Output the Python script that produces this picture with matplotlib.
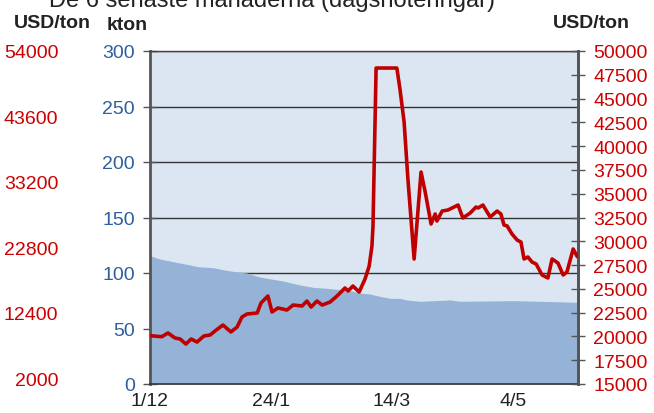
import matplotlib
matplotlib.use("Agg")
import matplotlib.pyplot as plt

plt.rcParams['font.family'] = ['Liberation Sans', 'DejaVu Sans']

# ----------------------------------------------------------------------
# Data (trading-day index from 1/12)
# ----------------------------------------------------------------------
PRICE_DAY = [0, 3.4, 5.2, 7.2, 8.7, 10.4, 11.9, 13.6, 15.6, 17.4, 18.8, 21.1,
             23.4, 25.2, 26.6, 28.1, 31.0, 32.1, 34.1, 35.3, 37.0, 39.6, 41.4,
             44.0, 45.4, 46.6, 48.3, 49.8, 52.1, 54.1, 56.4, 57.3, 58.7, 60.5,
             62.2, 63.4, 64.2, 64.5, 65.4, 71.4, 72.3, 73.5, 74.6, 76.4, 78.4,
             79.6, 81.3, 82.5, 83.0, 84.5, 86.2, 89.1, 90.5, 92.6, 94.3, 94.9,
             96.3, 98.4, 100.4, 101.5, 102.4, 103.3, 104.7, 106.2, 107.3, 108.2,
             109.3, 110.5, 111.7, 113.4, 115.1, 116.3, 118.0, 119.5, 120.6,
             122.4, 123.5]
PRICE_USD = [20080, 19970, 20360, 19840, 19730, 19200, 19730, 19410, 20050,
             20150, 20570, 21200, 20470, 20990, 22040, 22360, 22460, 23510,
             24250, 22570, 22990, 22780, 23300, 23200, 23720, 23090, 23720,
             23300, 23620, 24250, 25090, 24780, 25300, 24670, 26040, 27400,
             29500, 31600, 48210, 48210, 46000, 42540, 36550, 28140, 37280,
             35180, 31820, 32870, 32130, 33180, 33290, 33810, 32450, 32970,
             33600, 33500, 33810, 32550, 33180, 32870, 31710, 31610, 30770,
             30130, 29920, 28140, 28350, 27820, 27610, 26460, 26140, 28140,
             27720, 26460, 26770, 29190, 28450]

STOCK_DAY = [0, 2.9, 6.7, 11.6, 13.9, 18.2, 21.1, 24.0, 28.1, 31.0, 33.8, 38.5,
             43.4, 47.2, 51.2, 55.0, 57.9, 60.7, 63.6, 66.5, 69.4, 72.3, 74.3,
             78.1, 86.8, 89.7, 105.0, 116.6, 123.8]
STOCK_KTON = [115.6, 112.6, 110.2, 107.2, 105.7, 104.8, 103.0, 101.5, 100.0,
              97.0, 95.2, 92.8, 89.2, 87.1, 86.2, 85.0, 84.1, 82.0, 81.1, 79.0,
              77.2, 77.2, 75.7, 74.5, 75.7, 74.5, 75.1, 74.2, 73.6]

DATE_TICKS = [0, 35, 70, 105]
DATE_LABELS = ["1/12", "24/1", "14/3", "4/5"]

KTON_TICKS = [0, 50, 100, 150, 200, 250, 300]
PRICE_TICKS = list(range(15000, 50001, 2500))
OUTER_TICKS = [2000, 12400, 22800, 33200, 43600, 54000]

TITLE = "De 6 senaste månaderna (dagsnoteringar)"

# ----------------------------------------------------------------------
# Styles
# ----------------------------------------------------------------------
BG = "#DCE6F2"
AREA = "#95B3D7"
RED = "#C00000"
RED_TXT = "#CC0000"
BLUE_TXT = "#2E5E9E"
SPINE = "#555555"
FS = 14

fig = plt.figure(figsize=(6.54, 4.14), dpi=100)
ax = fig.add_axes([150 / 654, 29 / 414, 428 / 654, 333 / 414])
ax.set_facecolor(BG)

# stocks (kton) area on left axis
ax.fill_between(STOCK_DAY, 0, STOCK_KTON, color=AREA, lw=0, zorder=2)
ax.set_xlim(0, 123.8)
ax.set_ylim(0, 300)
ax.set_yticks(KTON_TICKS)
ax.yaxis.grid(True, color="#333333", lw=1.0, zorder=1)
ax.set_axisbelow(True)
ax.tick_params(axis='y', direction='inout', length=10, width=1, color=SPINE,
               labelcolor=BLUE_TXT, labelsize=FS, pad=6)
ax.set_xticks(DATE_TICKS)
ax.set_xticklabels(DATE_LABELS)
ax.tick_params(axis='x', direction='in', length=7, width=1, color="#333333",
               labelcolor="#222222", labelsize=FS, pad=6)
for s in ['left', 'right']:
    ax.spines[s].set_color(SPINE)
    ax.spines[s].set_linewidth(2)
ax.spines['top'].set_color("#444444")
ax.spines['top'].set_linewidth(1)
ax.spines['bottom'].set_color("#333333")
ax.spines['bottom'].set_linewidth(1.2)

# price line on right axis
ax2 = ax.twinx()
ax2.plot(PRICE_DAY, PRICE_USD, color=RED, lw=2.6, solid_joinstyle='round', zorder=3)
ax2.set_ylim(15000, 50000)
ax2.set_yticks(PRICE_TICKS)
ax2.tick_params(axis='y', direction='inout', length=10, width=1, color=SPINE,
                labelcolor=RED_TXT, labelsize=FS, pad=6)
for s in ['left', 'top', 'bottom']:
    ax2.spines[s].set_visible(False)
ax2.spines['right'].set_color(SPINE)
ax2.spines['right'].set_linewidth(2)

# outer left price scale (labels only, shifted slightly upward)
ax3 = ax.twinx()
shift = 6 * 52000 / 333
ax3.set_ylim(2000 - shift, 54000 - shift)
ax3.yaxis.tick_left()
ax3.set_yticks(OUTER_TICKS)
ax3.tick_params(axis='y', length=0, labelcolor=RED_TXT, labelsize=FS, pad=66)
for s in ax3.spines.values():
    s.set_visible(False)

# headers
fig.text(272 / 654, 1 - 7.5 / 414, TITLE, ha='center', va='baseline',
         fontsize=17, color="#222222")
fig.text(52 / 654, 1 - 24 / 414, "USD/ton", ha='center', va='center',
         fontsize=FS, fontweight='bold', color="#222222")
fig.text(127 / 654, 1 - 26 / 414, "kton", ha='center', va='center',
         fontsize=FS, fontweight='bold', color="#222222")
fig.text(591 / 654, 1 - 23 / 414, "USD/ton", ha='center', va='center',
         fontsize=FS, fontweight='bold', color="#222222")

fig.savefig("out.png", dpi=100)
